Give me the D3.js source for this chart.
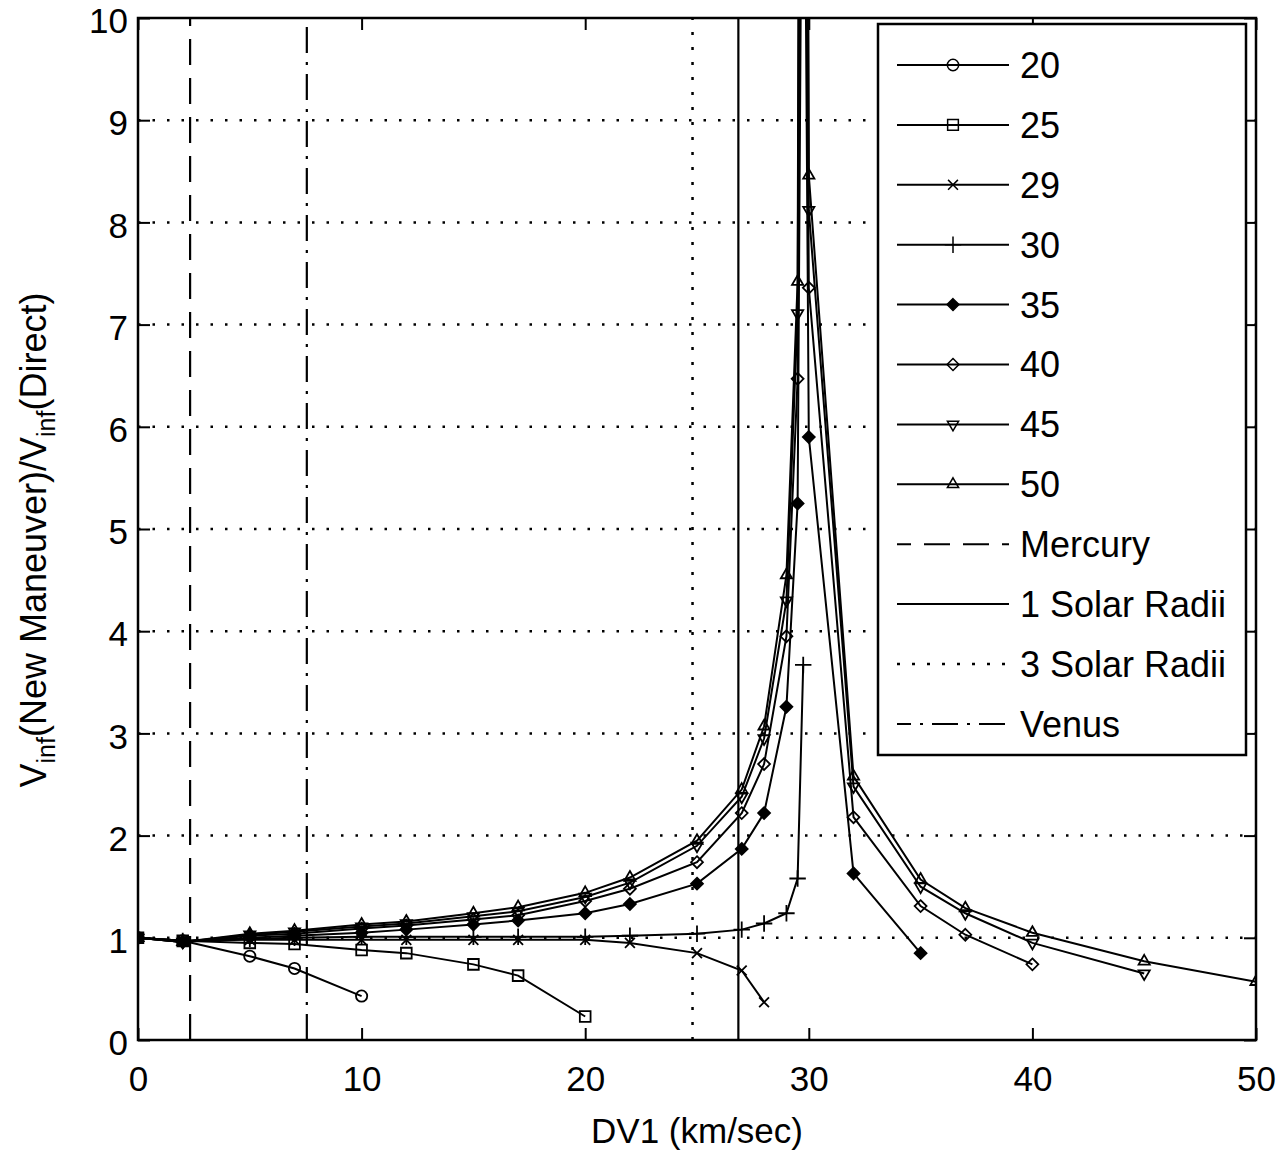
<!DOCTYPE html>
<html>
<head>
<meta charset="utf-8">
<script src="https://cdn.jsdelivr.net/npm/d3@7"></script>
<style>
  body { margin: 0; background: #fff; }
  text { font-family: "Liberation Sans", Arial, sans-serif; fill: #000; }
</style>
</head>
<body>
<div id="chart"></div>
<script>
// DV1 values (km/sec) where the runs were sampled
var xAll = [0, 2, 5, 7, 10, 12, 15, 17, 20, 22, 25, 27, 28, 29, 29.5, 29.75, 30, 32, 35, 37, 40, 45, 50];
var x30 = [0, 2, 5, 7, 10, 12, 15, 17, 20, 22, 25, 27, 28, 29, 29.5, 29.75];

var seriesNames = ["20", "25", "29", "30", "35", "40", "45", "50"];
var s20 = [1, 0.97, 0.82, 0.70, 0.43];
var s25 = [1, 0.97, 0.95, 0.94, 0.88, 0.85, 0.74, 0.63, 0.23];
var s29 = [1, 0.97, 0.98, 0.98, 0.98, 0.98, 0.98, 0.98, 0.98, 0.95, 0.85, 0.68, 0.37];
var s30 = [1, 0.97, 0.99, 1.0, 1.01, 1.01, 1.01, 1.01, 1.01, 1.02, 1.04, 1.08, 1.14, 1.24, 1.58, 3.67];
var s35 = [1, 0.96, 1.0, 1.02, 1.05, 1.08, 1.13, 1.17, 1.24, 1.33, 1.53, 1.87, 2.22, 3.26, 5.25, 14, 5.9, 1.63, 0.85];
var s40 = [1, 0.96, 1.02, 1.04, 1.09, 1.12, 1.18, 1.22, 1.36, 1.48, 1.74, 2.22, 2.7, 3.95, 6.47, 18, 7.36, 2.18, 1.31, 1.03, 0.74];
var s45 = [1, 0.96, 1.03, 1.06, 1.11, 1.14, 1.21, 1.26, 1.40, 1.54, 1.90, 2.38, 2.95, 4.3, 7.11, 22, 8.12, 2.48, 1.50, 1.24, 0.95, 0.65];
var s50 = [1, 0.96, 1.04, 1.07, 1.13, 1.16, 1.24, 1.30, 1.44, 1.59, 1.95, 2.45, 3.07, 4.55, 7.42, 26, 8.46, 2.58, 1.57, 1.29, 1.05, 0.77, 0.57];
var seriesValues = [s20, s25, s29, s30, s35, s40, s45, s50];

// vertical reference lines
var refNames = ["Mercury", "1 Solar Radii", "3 Solar Radii", "Venus"];
var refX = [2.33, 26.85, 24.8, 7.55];

var xTicks = [0, 10, 20, 30, 40, 50];
var yTicks = [0, 1, 2, 3, 4, 5, 6, 7, 8, 9, 10];

// styles
var markerTypes = ["o", "s", "x", "+", "dfill", "d", "v", "^"];
var refDash = ["26,13", null, "3,12", "26,9,3,9"];

var W = 1276, H = 1151;
var L = 138, R = 1256, T = 18, B = 1040;

var svg = d3.select("#chart").append("svg")
    .attr("width", W)
    .attr("height", H);

svg.append("rect").attr("width", W).attr("height", H).attr("fill", "#fff");

var x = d3.scaleLinear().domain([0, 50]).range([L, R]);
var y = d3.scaleLinear().domain([0, 10]).range([B, T]);

svg.append("defs").append("clipPath").attr("id", "plotclip")
  .append("rect").attr("x", L).attr("y", T).attr("width", R - L).attr("height", B - T);

// horizontal dotted grid
svg.append("g").selectAll("line")
    .data(yTicks.slice(1, -1))
    .enter().append("line")
    .attr("x1", L).attr("x2", R)
    .attr("y1", function(d) { return y(d); })
    .attr("y2", function(d) { return y(d); })
    .attr("stroke", "#000")
    .attr("stroke-width", 2.5)
    .attr("stroke-dasharray", "2.5,12");

var plot = svg.append("g").attr("clip-path", "url(#plotclip)");

// reference lines
plot.selectAll("line.ref")
    .data(refX)
    .enter().append("line")
    .attr("class", "ref")
    .attr("x1", function(d) { return x(d); })
    .attr("x2", function(d) { return x(d); })
    .attr("y1", y(0)).attr("y2", y(10))
    .attr("stroke", "#000")
    .attr("stroke-width", function(d, i) { return i == 2 ? 2.5 : 2.2; })
    .attr("stroke-dasharray", function(d, i) { return refDash[i]; });

function markerPath(type) {
    if (type == "o") return d3.symbol(d3.symbolCircle, 100)();
    if (type == "s") return d3.symbol(d3.symbolSquare, 115)();
    if (type == "x") return d3.symbol(d3.symbolTimes, 65)();
    if (type == "+") return d3.symbol(d3.symbolPlus, 90)();
    if (type == "d" || type == "dfill") return d3.symbol(d3.symbolDiamond2, 90)();
    if (type == "^") return d3.symbol(d3.symbolTriangle2, 90)();
    if (type == "v") return d3.symbol(d3.symbolTriangle2, 90)();
}
function markerTransform(type, px, py) {
    return "translate(" + px + "," + py + ")" + (type == "v" ? " rotate(180)" : "");
}

var line = d3.line()
    .x(function(d) { return x(d[0]); })
    .y(function(d) { return y(d[1]); });

seriesValues.forEach(function(vals, i) {
    var xs = (i == 3) ? x30 : xAll;
    var pts = vals.map(function(v, j) { return [xs[j], v]; });
    plot.append("path")
        .attr("d", line(pts))
        .attr("fill", "none")
        .attr("stroke", "#000")
        .attr("stroke-width", 2);
    var t = markerTypes[i];
    plot.append("g").selectAll("path")
        .data(pts)
        .enter().append("path")
        .attr("d", markerPath(t))
        .attr("transform", function(d) { return markerTransform(t, x(d[0]), y(d[1])); })
        .attr("fill", t == "dfill" ? "#000" : "none")
        .attr("stroke", "#000")
        .attr("stroke-width", 1.8);
});

// axes (ticks pointing inwards, MATLAB style)
var fs = 35;
var gx = svg.append("g").attr("transform", "translate(0," + B + ")")
    .call(d3.axisBottom(x).tickValues(xTicks).tickSize(-12).tickPadding(26));
var gy = svg.append("g").attr("transform", "translate(" + L + ",0)")
    .call(d3.axisLeft(y).tickValues(yTicks).tickSize(-12).tickPadding(10));
var gxt = svg.append("g").attr("transform", "translate(0," + T + ")")
    .call(d3.axisTop(x).tickValues(xTicks).tickSize(-12).tickFormat(""));
var gyr = svg.append("g").attr("transform", "translate(" + R + ",0)")
    .call(d3.axisRight(y).tickValues(yTicks).tickSize(-12).tickFormat(""));
[gx, gy, gxt, gyr].forEach(function(g) {
    g.select(".domain").remove();
    g.selectAll(".tick line").attr("stroke", "#000").attr("stroke-width", 2);
    g.selectAll(".tick text").style("font-size", fs + "px").attr("fill", "#000")
        .style("font-family", "'Liberation Sans', Arial, sans-serif");
});
gy.selectAll(".tick text").attr("dy", "0.42em");

svg.append("rect")
    .attr("x", L).attr("y", T)
    .attr("width", R - L).attr("height", B - T)
    .attr("fill", "none")
    .attr("stroke", "#000")
    .attr("stroke-width", 2.5);

// axis labels
svg.append("text")
    .attr("x", (L + R) / 2).attr("y", 1143)
    .attr("text-anchor", "middle")
    .style("font-size", fs + "px")
    .text("DV1 (km/sec)");

var yl = svg.append("text")
    .attr("transform", "translate(46," + 540 + ") rotate(-90)")
    .attr("text-anchor", "middle")
    .style("font-size", "36px");
yl.append("tspan").text("V");
yl.append("tspan").attr("dy", 9).style("font-size", "25px").text("inf");
yl.append("tspan").attr("dy", -9).text("(New Maneuver)/V");
yl.append("tspan").attr("dy", 9).style("font-size", "25px").text("inf");
yl.append("tspan").attr("dy", -9).text("(Direct)");

// legend
var legX = 878, legY = 24, legW = 368, legH = 731;
var leg = svg.append("g");
leg.append("rect")
    .attr("x", legX).attr("y", legY)
    .attr("width", legW).attr("height", legH)
    .attr("fill", "#fff")
    .attr("stroke", "#000")
    .attr("stroke-width", 2.5);

var legItems = seriesNames.map(function(n, i) { return { name: n, marker: markerTypes[i], dash: null }; })
    .concat(refNames.map(function(n, i) { return { name: n, marker: null, dash: refDash[i], idx: i }; }));

var row = leg.selectAll("g.item")
    .data(legItems)
    .enter().append("g")
    .attr("class", "item")
    .attr("transform", function(d, i) { return "translate(0," + (65 + i * 59.9) + ")"; });

row.append("line")
    .attr("x1", 897).attr("x2", 1009)
    .attr("y1", 0).attr("y2", 0)
    .attr("stroke", "#000")
    .attr("stroke-width", function(d) { return d.dash == "3,12" ? 2.5 : 2; })
    .attr("stroke-dasharray", function(d) { return d.dash; })
    .attr("stroke-dashoffset", function(d) { return d.dash && d.dash != "3,12" ? 12 : 0; });

row.filter(function(d) { return d.marker; })
    .append("path")
    .attr("d", function(d) { return markerPath(d.marker); })
    .attr("transform", function(d) { return markerTransform(d.marker, 953, 0); })
    .attr("fill", function(d) { return d.marker == "dfill" ? "#000" : "none"; })
    .attr("stroke", "#000")
    .attr("stroke-width", 1.5);

row.append("text")
    .attr("x", 1020).attr("y", 0)
    .attr("dy", "0.36em")
    .style("font-size", "36px")
    .text(function(d) { return d.name; });
</script>
</body>
</html>
